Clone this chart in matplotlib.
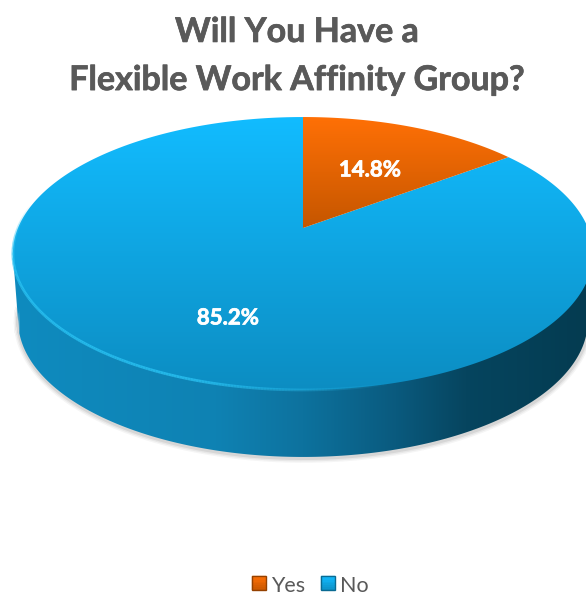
import numpy as np
import matplotlib
matplotlib.use("Agg")
import matplotlib.pyplot as plt
import matplotlib.patheffects as pe
from matplotlib.collections import LineCollection
from matplotlib.colors import LinearSegmentedColormap, to_rgb
from matplotlib.legend_handler import HandlerBase
from matplotlib.patches import PathPatch, Patch, Rectangle
from matplotlib.path import Path

plt.rcParams['font.family'] = ['Lato', 'DejaVu Sans']

title = "Will You Have a\nFlexible Work Affinity Group?"
categories = ["Yes", "No"]
shares = [14.8, 85.2]
label_xy = [(370, 170), (228, 318)]
slice_colors = [("#FF7006", "#C55600"), ("#12BCFF", "#0C8DC2")]
side_stops = [(0.0, "#0E8BBF"), (0.35, "#0F82B3"), (0.5, "#0D729E"),
              (0.66, "#0A5A7E"), (0.78, "#06455F"), (1.0, "#043B50")]
text_gray = "#595959"

# disc geometry, in pixels
cx, apex_y = 303, 228
half_w, half_h, tilt = 285, 131.7, 0.1868
depth, base_scale = 67, 0.982


def project(theta):
    # theta runs clockwise from 12 o'clock, tilt gives the near edge its extra size
    u, v = np.sin(theta), np.cos(theta)
    w = 1 + tilt * v
    return cx + half_w * u / w, apex_y - half_h * v / w


def gradient(ax, colors, extent, clip, vertical=True, zorder=2):
    # paint a colour ramp over extent and cut it to the clip path
    cmap = LinearSegmentedColormap.from_list("ramp", list(colors))
    ramp = np.linspace(0, 1, 256)
    ramp = ramp[:, None] if vertical else ramp[None, :]
    im = ax.imshow(ramp, cmap=cmap, extent=extent, origin="upper", aspect="auto",
                   interpolation="bilinear", zorder=zorder)
    patch = PathPatch(clip, transform=ax.transData, fc="none", ec="none")
    ax.add_patch(patch)
    im.set_clip_path(patch)
    return im


class GradientSwatch(HandlerBase):
    # small bevelled square for the legend
    def create_artists(self, legend, orig, xd, yd, w, h, fontsize, trans):
        top, bottom = orig.ramp
        side = w
        y0 = yd + (h - side) / 2
        top, bottom = np.array(to_rgb(top)), np.array(to_rgb(bottom))
        out = []
        n = 8
        for i in range(n):
            c = bottom + (top - bottom) * (i + 0.5) / n
            out.append(Rectangle((xd, y0 + side * i / n), side, side / n, fc=c, ec=c,
                                 lw=0.2, transform=trans))
        out.append(Rectangle((xd, y0), side, side, fc="none", ec=bottom * 0.75, lw=1.0,
                             transform=trans))
        return out


fig = plt.figure(figsize=(5.86, 5.98), dpi=100)
ax = fig.add_axes([0, 0, 1, 1])

t = np.linspace(0, 2 * np.pi, 721)
rim_x, rim_y = project(t)
base_x = cx + (rim_x - cx) * base_scale
base_y = rim_y + depth

# soft shadow around the wall of the disc
low = base_y > base_y.mean()
order = np.argsort(base_x[low])
wall_x, wall_y = base_x[low][order], base_y[low][order]
for lw, alpha in zip([7, 5, 3], [0.05, 0.07, 0.10]):
    ax.plot(wall_x + 0.5, wall_y + 1, color="#404040", lw=lw, alpha=alpha, zorder=1,
            solid_capstyle="round")

# wall of the disc
left, right = np.argmin(rim_x), np.argmax(rim_x)
wall = np.vstack([[rim_x[left], rim_y[left]], np.c_[wall_x, wall_y], [rim_x[right], rim_y[right]]])
gradient(ax, side_stops, (rim_x.min(), rim_x.max(), wall[:, 1].max() + 1, rim_y[left]),
         Path(np.vstack([wall, wall[0]]), closed=True), vertical=False)

# top face, one slice per category
edges = np.r_[0, np.cumsum(shares)] / sum(shares) * 2 * np.pi
for i in [1, 0]:
    a = np.linspace(edges[i], edges[i + 1], 400)
    sx, sy = project(a)
    verts = np.vstack([[cx, apex_y], np.c_[sx, sy], [cx, apex_y]])
    ymin = sy.min()
    ymax = max(sy.max(), apex_y)
    gradient(ax, slice_colors[i], (cx - 300, cx + 300, ymax, ymin),
             Path(verts, closed=True), zorder=3)

# light bevel along the lower left edge of the top face
pts = np.c_[rim_x, rim_y]
segs = np.stack([pts[:-1], pts[1:]], axis=1)
mid_x, mid_y = segs[:, :, 0].mean(axis=1), segs[:, :, 1].mean(axis=1)
fade = np.clip((cx + 90 - mid_x) / 200, 0, 1) * np.clip((mid_y - 205) / 50, 0, 1)
rgba = np.zeros((len(segs), 4))
rgba[:, :3] = to_rgb("#2CC6F6")
rgba[:, 3] = fade * 0.75
ax.add_collection(LineCollection(segs, colors=rgba, linewidths=2.0, zorder=4))

for value, (lx, ly) in zip(shares, label_xy):
    ax.text(lx, ly, f"{value:.1f}%", color="white", fontsize=16, fontweight="bold",
            ha="center", va="center", zorder=5,
            path_effects=[pe.withStroke(linewidth=0.5, foreground="white")])

ax.text(297, 56, title, color=text_gray, fontsize=24.5, fontweight="bold", ha="center",
        va="center", linespacing=1.62,
        path_effects=[pe.withStroke(linewidth=0.5, foreground=text_gray)])

handles = []
for name, col in zip(categories, slice_colors):
    h = Patch(label=name)
    h.ramp = (col[0], col[1])
    handles.append(h)
ax.legend(handles=handles, loc="center", bbox_to_anchor=(0.529, 0.0195), ncol=2, frameon=False,
          fontsize=15.5, labelcolor=text_gray, handler_map={Patch: GradientSwatch()},
          handlelength=0.64, handleheight=0.8, handletextpad=0.23, columnspacing=0.75,
          borderpad=0, borderaxespad=0)

ax.set_xlim(0, 586)
ax.set_ylim(598, 0)
ax.axis("off")
fig.savefig("out.png", dpi=100)
